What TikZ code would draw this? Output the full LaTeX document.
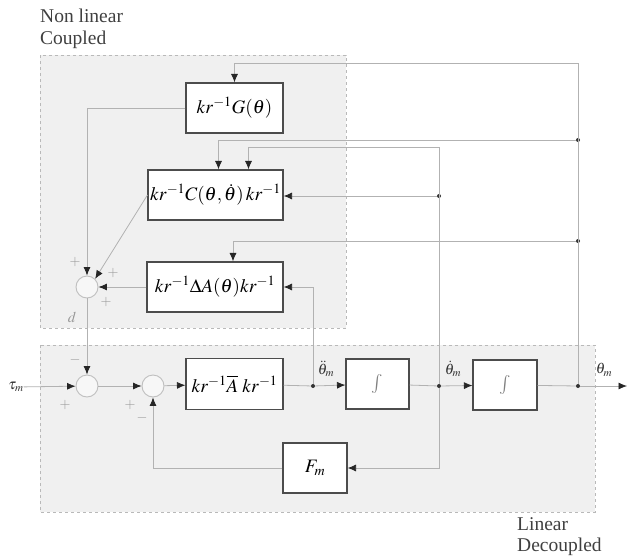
\documentclass[tikz,border=0pt]{standalone}
\usepackage{mathptmx}
\usepackage{fontspec}
\setmainfont{Liberation Serif}
\usetikzlibrary{arrows.meta}
\begin{document}
\begin{tikzpicture}[x=1pt,y=-1pt,
  region/.style={draw=gray!55, dashed, fill=gray!12, line width=0.7pt},
  blk/.style={draw=black!70, fill=white, line width=1.1pt, inner sep=0pt,
    font=\fontsize{19}{22}\selectfont},
  sig/.style={draw=gray!60, line width=0.8pt},
  arr/.style={sig, -{Latex[length=8.5pt,width=7pt,color=black!85]}},
  sumnode/.style={circle, draw=gray!50, fill=gray!6, line width=0.9pt,
    minimum size=22pt, inner sep=0pt},
  tap/.style={circle, fill=black!80, inner sep=0pt, minimum size=4pt},
  sgn/.style={text=gray!80, font=\fontsize{14}{14}\selectfont, inner sep=0pt},
  lbl/.style={text=black!80, font=\fontsize{15}{15}\selectfont, inner sep=0pt},
  regiontitle/.style={text=black!75, font=\fontsize{19.5}{21.5}\selectfont, align=left, inner sep=0pt}]
\useasboundingbox (0,0) rectangle (627,560);

% coupled / decoupled regions
\draw[region] (40,55) rectangle (346,328);
\draw[region] (40,345) rectangle (595,512);
\node[regiontitle, anchor=north west] (capNL) at (40,9) {Non linear\\Coupled};
\node[regiontitle, anchor=north west] (capLD) at (517,517) {Linear\\Decoupled};

% blocks
\node[blk, minimum width=97pt, minimum height=50pt] (G) at (234.5,108) {$kr^{-1}G(\theta)$};
\node[blk, minimum width=135pt, minimum height=50pt] (C) at (215.5,195) {$kr^{-1}C(\theta,\dot\theta)\,kr^{-1}$};
\node[blk, minimum width=136pt, minimum height=50pt] (DA) at (215,287) {$kr^{-1}\Delta A(\theta)kr^{-1}$};
\node[blk, minimum width=97pt, minimum height=51pt] (A) at (234.5,384) {$kr^{-1}\overline{A}\;kr^{-1}$};
\node[blk, minimum width=63pt, minimum height=50pt] (I1) at (377.5,384) {\textcolor{gray}{$\int$}};
\node[blk, minimum width=64pt, minimum height=50pt] (I2) at (505,385) {\textcolor{gray}{$\int$}};
\node[blk, minimum width=64pt, minimum height=50pt] (Fm) at (315,468) {$F_m$};

% summing junctions
\node[sumnode] (Sd) at (87,287) {};
\node[sumnode] (S1) at (87,386) {};
\node[sumnode] (S2) at (153,386) {};

% taps
\node[tap] (t1) at (313,386) {};
\node[tap] (t2) at (439,386) {};
\node[tap] (t3) at (578,386) {};
\node[tap] (tC) at (439,196) {};
\node[tap] (tq1) at (578,140) {};
\node[tap] (tq2) at (578,241) {};
\coordinate (out) at (627,386);
\coordinate (c1) at (439,147);
\coordinate (c2) at (578,63);

% forward path
\node[lbl] (tau) at (16,387) {$\tau_m$};
\draw[arr] (tau) -- (S1);
\draw[arr] (S1) -- (S2);
\draw[arr] (S2) -- (A);
\draw[sig] (A) -- (t1);
\draw[arr] (t1) -- (I1);
\draw[sig] (I1) -- (t2);
\draw[arr] (t2) -- (I2);
\draw[sig] (I2) -- (t3);
\draw[arr] (t3) -- (out);
\node[lbl] (lddq) at (326,369) {$\ddot\theta_m$};
\node[lbl] (ldq) at (453,369) {$\dot\theta_m$};
\node[lbl] (lq) at (604,370) {$\theta_m$};

% friction feedback
\draw[arr] (t2) |- (Fm);
\draw[arr] (Fm) -| (S2);

% feedback into the coupled terms
\draw[arr] (t1) |- (DA);
\draw[sig] (t2) -- (c1);
\draw[arr] (c1) -| ([xshift=33pt]C.north);
\draw[arr] (tC) -- (C.east |- tC);
\draw[sig] (t3) -- (c2);
\draw[arr] (c2) -| (G.north);
\draw[arr] (tq1) -| ([xshift=3pt]C.north);
\draw[arr] (tq2) -| ([xshift=18pt]DA.north);

% nonlinear terms summed into the disturbance d
\draw[arr] (G.west) -| (Sd.north);
\draw[arr] (C.west) -- (Sd.north east);
\draw[arr] (DA) -- (Sd);
\draw[arr] (Sd) -- (S1);

% signs
\node[sgn] (p1) at (75,262) {$+$};
\node[sgn] (p2) at (113,273) {$+$};
\node[sgn] (p3) at (106,302) {$+$};
\node[lbl, text=gray!80] (ld) at (72,317) {$d$};
\node[sgn] (m1) at (75,360) {$-$};
\node[sgn] (p4) at (65,405) {$+$};
\node[sgn] (p5) at (130,405) {$+$};
\node[sgn] (m2) at (142,418) {$-$};
\end{tikzpicture}
\end{document}
